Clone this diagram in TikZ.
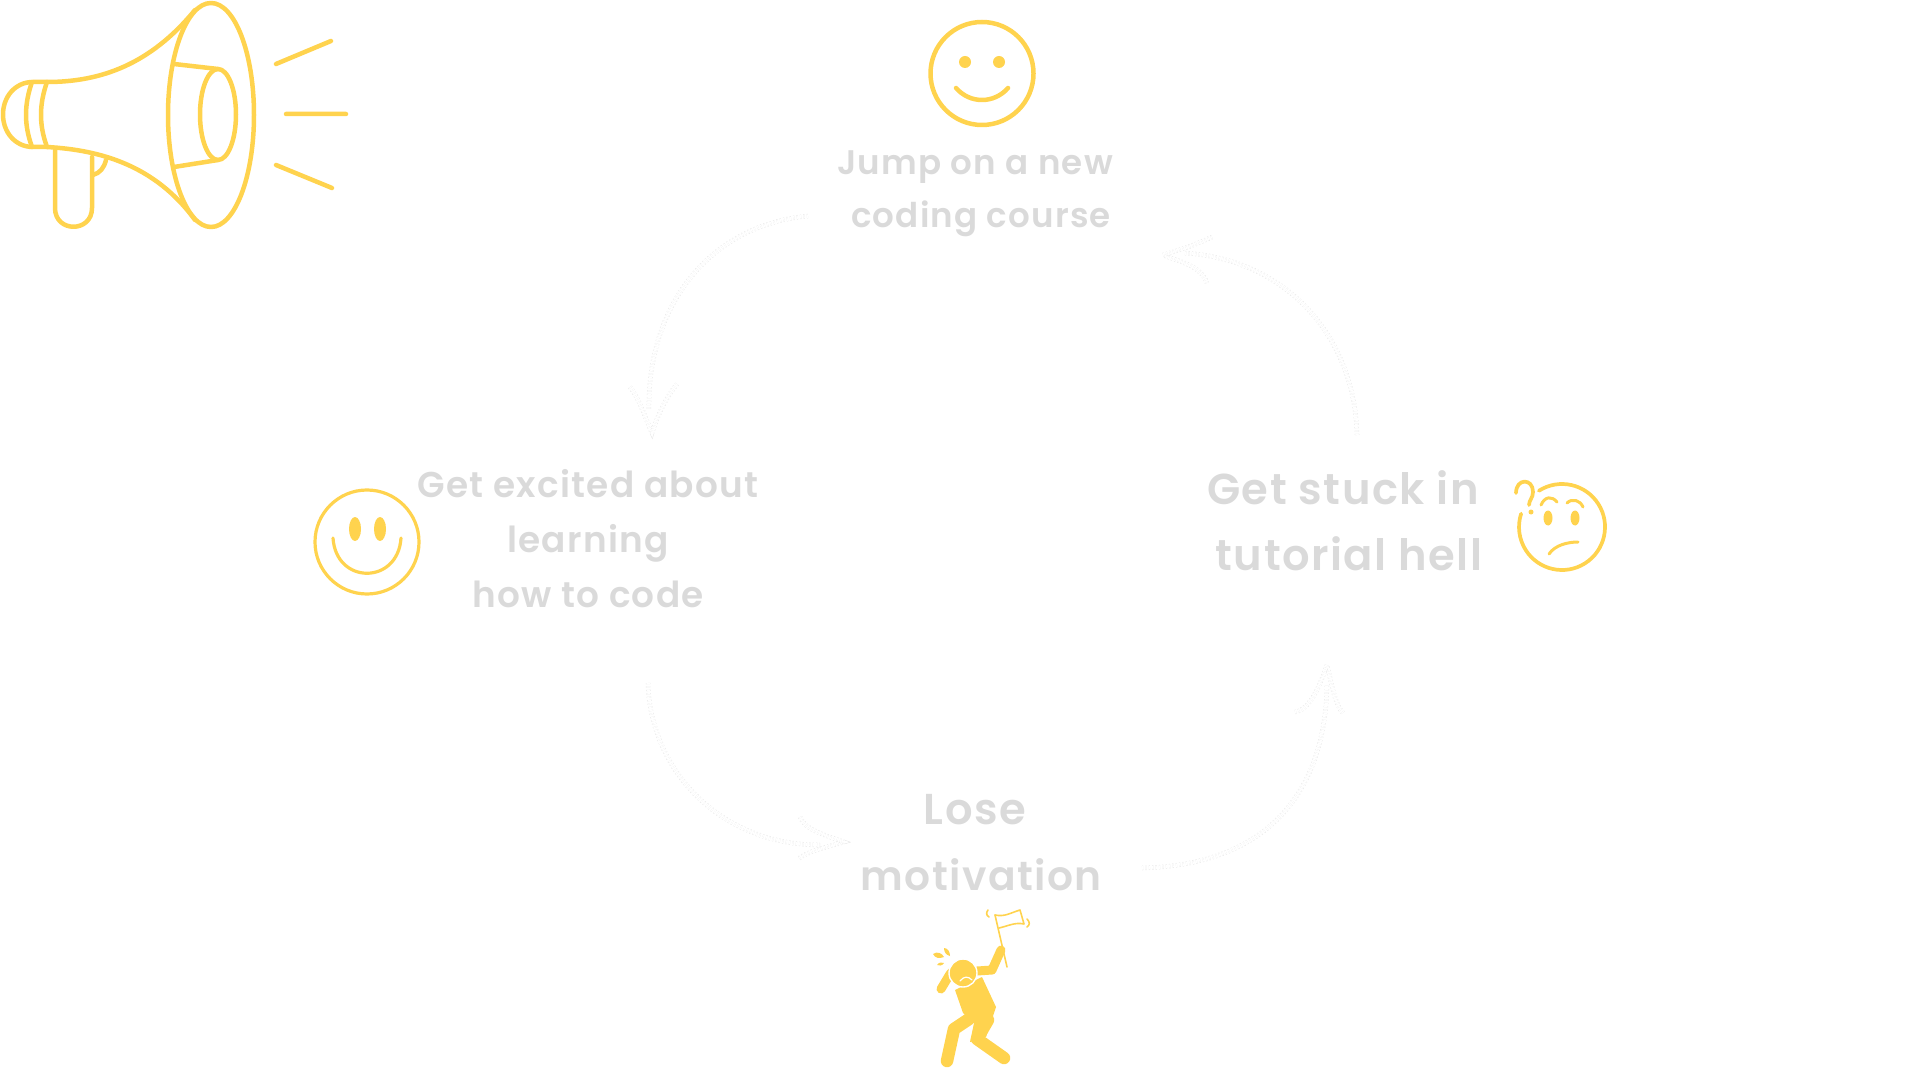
\documentclass[tikz,border=0pt]{standalone}
\usepackage{xcolor}
\usepackage{fontspec}
\setmainfont{Poppins}[BoldFont={Poppins SemiBold},LetterSpace=3.5]
\definecolor{icon-yellow}{RGB}{255,211,78}
\definecolor{label-gray}{RGB}{218,218,218}
\definecolor{loop-gray}{RGB}{230,230,230}
\usetikzlibrary{calc}
\tikzset{
	icon/.style={draw=icon-yellow,line width=.045cm,line cap=round,line join=round},
	thinicon/.style={icon,line width=.032cm},
	flagline/.style={icon,line width=.016cm},
	limb/.style={icon,line width=.125cm},
	arm/.style={icon,line width=.09cm},
	smalllabel/.style={text=label-gray,align=center,inner sep=0pt,
		font=\fontsize{10.2}{15.4}\selectfont\bfseries},
	biglabel/.style={text=label-gray,align=center,inner sep=0pt,
		font=\fontsize{12.3}{18.7}\selectfont\bfseries},
	looparrow/.style={draw=loop-gray,line width=.005cm,double=white,double distance=.035cm,
		dash pattern=on .012cm off .022cm,line cap=butt},
}
\begin{document}
\begin{tikzpicture}[x=1cm,y=-1cm]
	\useasboundingbox (0,0) rectangle (19.2,10.8);
	
	% megaphone
	\draw[icon] (2.11,1.15) ellipse [x radius=.43,y radius=1.12];
	\draw[icon] (2.18,1.145) ellipse [x radius=.18,y radius=.455];
	\draw[icon] (1.74,.64)--(2.18,.69) (1.74,1.67)--(2.18,1.6);
	\draw[icon] (1.95,.1) .. controls (1.5,.65) and (1,.82) .. (.47,.82)
	-- (.33,.82) .. controls (.15,.82) and (.03,.97) .. (.03,1.145)
	.. controls (.03,1.32) and (.15,1.47) .. (.33,1.47)
	-- (.47,1.47) .. controls (1,1.5) and (1.55,1.65) .. (1.95,2.2);
	\draw[icon] (.32,.82) .. controls (.24,1.05) and (.24,1.25) .. (.32,1.47);
	\draw[icon] (.47,.82) .. controls (.39,1.05) and (.39,1.25) .. (.47,1.47);
	\draw[icon] (.55,1.5) -- (.55,2.08) .. controls (.55,2.33) and (.92,2.33) .. (.92,2.08) -- (.92,1.57);
	\draw[icon] (1.06,1.6) .. controls (1.04,1.68) and (1,1.73) .. (.93,1.75);
	\draw[icon] (2.76,.64)--(3.31,.41) (2.86,1.14)--(3.46,1.14) (2.76,1.65)--(3.32,1.88);
	
	% ================================================
	% top face and label
	\draw[icon] (9.82,.735) circle [radius=.515];
	\fill[icon-yellow] (9.65,.62) circle [radius=.06] (9.99,.62) circle [radius=.06];
	\draw[icon] (9.56,.88) .. controls (9.7,1.04) and (9.94,1.04) .. (10.08,.88);
	\node[smalllabel,anchor=base,font=\fontsize{9.7}{15.4}\selectfont\bfseries] (L1a) at (9.75,1.75) {Jump on a new};
	\node[smalllabel,anchor=base,font=\fontsize{9.7}{15.4}\selectfont\bfseries] (L1b) at (9.81,2.28) {coding course};
	
	% left face and label
	\draw[thinicon] (3.67,5.42) circle [radius=.52];
	\fill[icon-yellow] (3.55,5.29) ellipse [x radius=.06,y radius=.12]
	(3.8,5.29) ellipse [x radius=.06,y radius=.12];
	\draw[thinicon] (3.33,5.38) .. controls (3.36,5.85) and (3.98,5.85) .. (4.01,5.38);
	\node[smalllabel,anchor=base] (L2a) at (5.88,4.97) {Get excited about};
	\node[smalllabel,anchor=base] (L2b) at (5.88,5.52) {learning};
	\node[smalllabel,anchor=base] (L2c) at (5.88,6.07) {how to code};
	
	% right face and label
	\draw[icon,line width=.037cm] (15.62,5.27) ++(-122.5:.43) arc [start angle=-122.5,end angle=198,radius=.43];
	\draw[icon,line width=.037cm] (15.16,4.93) .. controls (15.16,4.78) and (15.33,4.78) .. (15.33,4.92)
	.. controls (15.33,4.98) and (15.29,5) .. (15.29,5.05);
	\fill[icon-yellow] (15.31,5.12) circle [radius=.025];
	\draw[icon,line width=.03cm] (15.41,5.05) .. controls (15.45,4.96) and (15.52,4.96) .. (15.57,5.02);
	\draw[icon,line width=.03cm] (15.67,5.03) .. controls (15.72,4.98) and (15.8,5) .. (15.83,5.07);
	\fill[icon-yellow] (15.48,5.18) ellipse [x radius=.045,y radius=.075]
	(15.75,5.18) ellipse [x radius=.045,y radius=.075];
	\draw[icon,line width=.03cm] (15.49,5.54) .. controls (15.55,5.45) and (15.68,5.42) .. (15.78,5.42);
	\node[biglabel,anchor=base] (L3a) at (13.43,5.05) {Get stuck in};
	\node[biglabel,anchor=base] (L3b) at (13.49,5.7) {tutorial hell};
	
	% bottom figure and label
	\node[biglabel,anchor=base] (L4a) at (9.75,8.24) {Lose};
	\node[biglabel,anchor=base,font=\fontsize{11.6}{18.7}\selectfont\bfseries] (L4b) at (9.81,8.9) {motivation};
	
	\fill[icon-yellow] (9.55,9.9) -- (9.82,9.77) -- (9.96,10.07) -- (9.86,10.37) -- (9.7,10.42)
	-- (9.74,10.23) -- (9.63,10.13) -- cycle;
	\draw[limb] (9.69,10.19) -- (9.54,10.29) -- (9.47,10.61);
	\draw[limb] (9.88,10.2) -- (9.77,10.39) -- (10.04,10.58);
	\draw[arm] (10.01,9.5) -- (9.92,9.7) -- (9.77,9.71);
	\draw[arm] (9.41,9.89) -- (9.5,9.74) -- (9.6,9.64);
	\filldraw[fill=icon-yellow,draw=white,line width=.014cm] (9.63,9.73) circle [radius=.14];
	\draw[white,line width=.012cm,line cap=round] (9.6,9.81) .. controls (9.64,9.76) and (9.68,9.76) .. (9.72,9.8);
	\draw[flagline] (9.95,9.15) -- (10.07,9.67);
	\draw[flagline] (9.95,9.15) .. controls (10.05,9.17) and (10.1,9.13) .. (10.2,9.1)
	-- (10.24,9.24) .. controls (10.15,9.22) and (10.08,9.26) .. (9.99,9.28);
	\draw[flagline] (9.88,9.1) .. controls (9.86,9.13) and (9.86,9.15) .. (9.89,9.17);
	\draw[flagline] (10.27,9.19) .. controls (10.3,9.22) and (10.3,9.25) .. (10.27,9.27);
	\fill[icon-yellow] (9.33,9.54) .. controls (9.37,9.51) and (9.42,9.53) .. (9.44,9.57)
	.. controls (9.39,9.59) and (9.35,9.58) .. cycle;
	\fill[icon-yellow] (9.44,9.48) .. controls (9.48,9.48) and (9.5,9.52) .. (9.5,9.56)
	.. controls (9.46,9.55) and (9.44,9.52) .. cycle;
	\fill[icon-yellow] (9.37,9.65) .. controls (9.39,9.62) and (9.42,9.62) .. (9.44,9.63)
	.. controls (9.42,9.66) and (9.39,9.66) .. cycle;
	
	% ================================================
	% loop arrows
	\coordinate (A1) at (8.08,2.16);
	\coordinate (A2) at (6.49,4.1);
	\coordinate (A3) at (6.52,4.33);
	\draw[looparrow] (A1) .. controls (7.1,2.25) and (6.47,3.05) .. (A2);
	\draw[looparrow] (6.3,3.87) .. controls (6.4,4) and (6.46,4.2) .. (A3) .. controls (6.56,4.2) and (6.64,4) .. (6.77,3.84);
	
	\coordinate (B1) at (13.57,4.35);
	\coordinate (B2) at (11.85,2.53);
	\coordinate (B3) at (11.63,2.55);
	\draw[looparrow] (B1) .. controls (13.55,3.4) and (12.9,2.6) .. (B2);
	\draw[looparrow] (12.12,2.37) .. controls (11.95,2.45) and (11.8,2.5) .. (B3) .. controls (11.8,2.62) and (12,2.65) .. (12.07,2.83);
	
	\coordinate (C1) at (6.48,6.83);
	\coordinate (C2) at (8.2,8.45);
	\coordinate (C3) at (8.44,8.42);
	\draw[looparrow] (C1) .. controls (6.5,7.7) and (7.2,8.45) .. (C2);
	\draw[looparrow] (8,8.17) .. controls (8.05,8.3) and (8.25,8.35) .. (C3) .. controls (8.25,8.48) and (8.1,8.5) .. (7.98,8.59);
	
	\coordinate (D1) at (11.42,8.68);
	\coordinate (D2) at (13.27,6.85);
	\coordinate (D3) at (13.27,6.65);
	\draw[looparrow] (D1) .. controls (12.7,8.65) and (13.25,7.9) .. (D2);
	\draw[looparrow] (12.95,7.12) .. controls (13.1,7.1) and (13.2,6.85) .. (D3) .. controls (13.32,6.85) and (13.35,7.05) .. (13.43,7.13);
	
\end{tikzpicture}
\end{document}
